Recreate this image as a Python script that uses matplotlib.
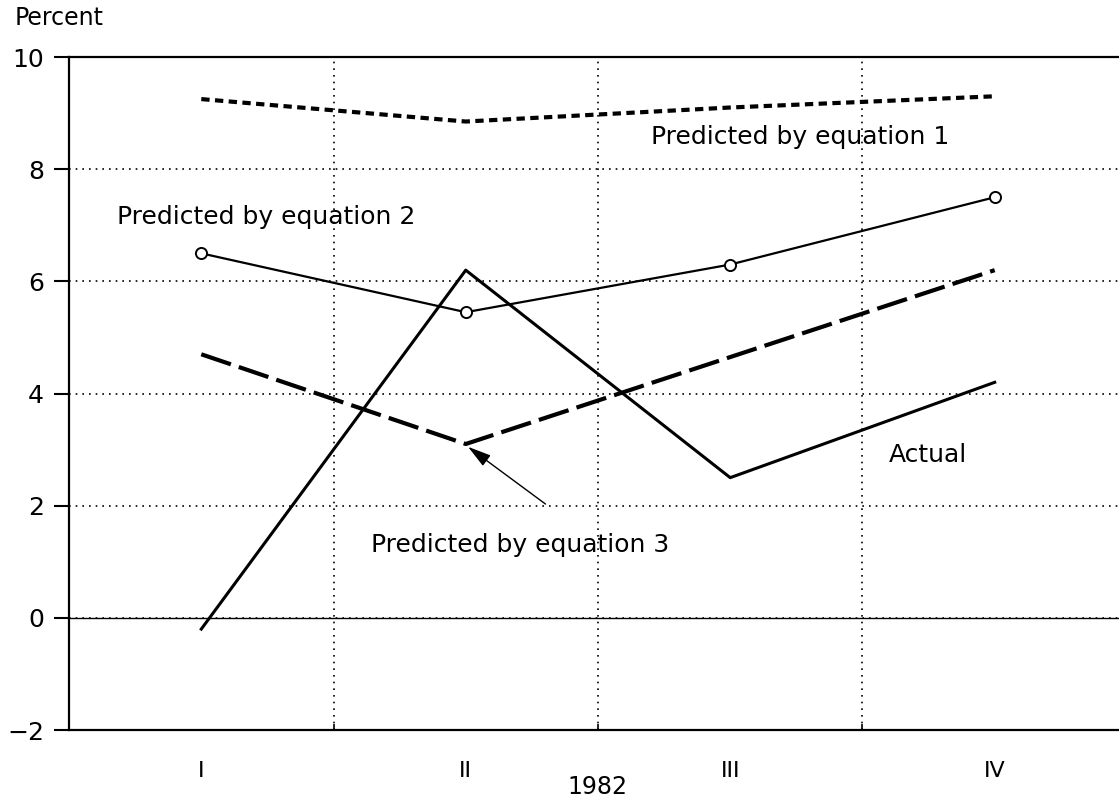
import numpy as np
import matplotlib
matplotlib.use("Agg")
import matplotlib.pyplot as plt

# quarters of 1982
quarters = ["I", "II", "III", "IV"]
actual = [-0.2, 6.2, 2.5, 4.2]
eq1 = [9.25, 8.85, 9.1, 9.3]
eq2 = [6.5, 5.45, 6.3, 7.5]
eq3 = [4.7, 3.1, 4.65, 6.2]
y_ticks = [-2, 0, 2, 4, 6, 8, 10]

plt.rcParams['font.family'] = ['DejaVu Sans']

fig = plt.figure(figsize=(11.19, 8.01), dpi=100)
ax = fig.add_axes([0.0617, 0.0886, 0.9383, 0.8402])

x = np.arange(len(quarters))

# grid
for gx in [0.5, 1.5, 2.5]:
    ax.axvline(gx, color='black', lw=1.2, ls=(0, (1, 3)), zorder=1)
for gy in y_ticks[1:-1]:
    ax.axhline(gy, color='black', lw=1.2, ls=(0, (1, 3)), zorder=1)
ax.axhline(0, color='black', lw=1.0, zorder=1)

ax.plot(x, eq1, color='black', lw=3, ls=(0, (2.0, 1.3)), zorder=3)
ax.plot(x, eq2, color='black', lw=1.6, marker='o', markersize=8,
        markerfacecolor='white', markeredgecolor='black',
        markeredgewidth=1.4, zorder=4)
ax.plot(x, actual, color='black', lw=2.2, zorder=3)
ax.plot(x, eq3, color='black', lw=3, ls=(0, (7.5, 2)), zorder=3)

ax.text(1.70, 8.57, "Predicted by equation 1", fontsize=18,
        ha='left', va='center')
ax.text(-0.32, 7.15, "Predicted by equation 2", fontsize=18,
        ha='left', va='center')
ax.text(0.64, 1.30, "Predicted by equation 3", fontsize=18,
        ha='left', va='center')
ax.text(2.60, 2.91, "Actual", fontsize=18, ha='left', va='center')
ax.annotate("", xy=(1.0, 3.08), xytext=(1.31, 2.0),
            arrowprops=dict(arrowstyle='-|>,head_length=0.9,head_width=0.25',
                            color='black', lw=1.0, mutation_scale=16))

ax.set_xlim(-0.5, 3.47)
ax.set_ylim(-2, 10)
ax.set_yticks(y_ticks)
ax.set_yticklabels([str(v).replace('-', '\u2212') for v in y_ticks])
ax.set_xticks(x)
ax.set_xticklabels(quarters)
ax.set_xticks([0.5, 1.5, 2.5], minor=True)

ax.tick_params(axis='y', direction='out', length=11, width=1.5,
               pad=7, labelsize=18)
ax.tick_params(axis='x', which='major', length=0, pad=22, labelsize=16)
ax.tick_params(axis='x', which='minor', direction='in', length=4,
               width=1.2)

for side in ['left', 'bottom', 'top']:
    ax.spines[side].set_linewidth(1.6)
ax.spines['right'].set_visible(False)

fig.text(597 / 1119, 1 - 787 / 801, "1982", fontsize=17,
         ha='center', va='center')
fig.text(15 / 1119, 1 - 18 / 801, "Percent", fontsize=17,
         ha='left', va='center')

fig.savefig("out.png", dpi=100)
